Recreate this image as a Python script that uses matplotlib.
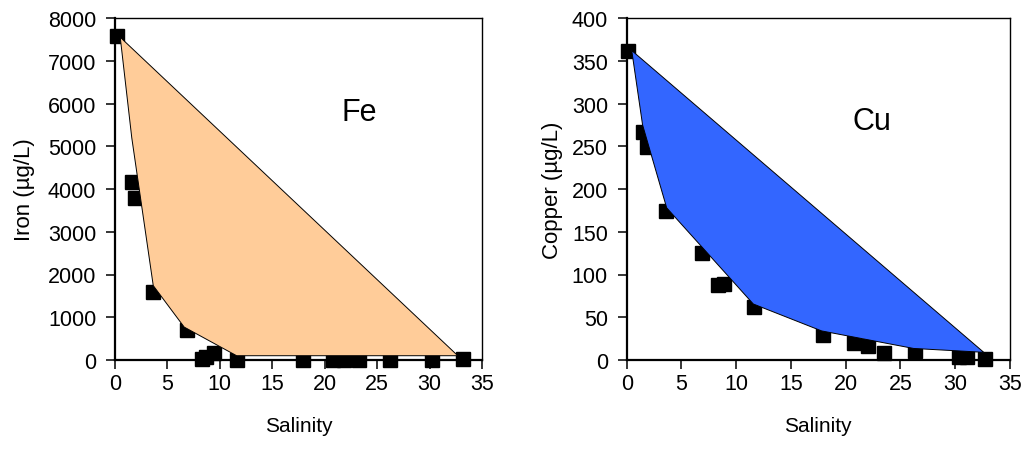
import matplotlib
matplotlib.use('Agg')

import matplotlib.pyplot as plt
from matplotlib.patches import Polygon

plt.rcParams['font.family'] = ['Liberation Sans', 'DejaVu Sans']

# ---------------------------
# DATA
# ---------------------------
fe_sal = [0.15, 1.6, 1.9, 3.65, 6.83, 8.26, 8.7, 9.45, 11.6, 17.9, 20.8, 21.8, 23.3, 26.2, 30.25, 33.2]
fe_val = [7570, 4160, 3800, 1580, 690, 20, 60, 160, 10, 10, 10, 10, 10, 10, 10, 20]

# mixing envelope (upper: conservative line, lower: model curve)
fe_env_sal = [0.5, 1.6, 3.65, 6.6, 11.6, 32.7]
fe_env_val = [7550, 5200, 1740, 770, 100, 100]

cu_sal = [0.15, 1.46, 1.83, 3.59, 6.86, 8.38, 8.84, 11.64, 17.96, 20.8, 22.0, 23.5, 26.35, 30.3, 31.1, 32.75]
cu_val = [362, 267, 249, 174, 125, 88, 89, 62, 29, 20, 16, 8, 10, 4, 3, 1]

cu_env_sal = [0.46, 1.45, 3.65, 11.56, 17.8, 26.2, 32.6]
cu_env_val = [362, 275, 178, 65.5, 34, 13.5, 9]

x_ticks = [0, 5, 10, 15, 20, 25, 30, 35]
fe_ticks = [0, 1000, 2000, 3000, 4000, 5000, 6000, 7000, 8000]
cu_ticks = [0, 50, 100, 150, 200, 250, 300, 350, 400]

# ---------------------------
# FIGURE
# ---------------------------
fig = plt.figure(figsize=(10.23, 4.64), dpi=100)
ax_fe = fig.add_axes([0.1124, 0.222, 0.3587, 0.737])
ax_cu = fig.add_axes([0.6126, 0.222, 0.3747, 0.737])


def draw_panel(ax, sal, val, env_sal, env_val, color, yticks, ylabel, name, ylpad):
    pts = list(zip(env_sal, env_val))
    ax.add_patch(Polygon(pts, closed=True, facecolor=color, edgecolor='black',
                         linewidth=0.7, zorder=3))
    ax.plot(sal, val, 's', color='black', markersize=9.5, clip_on=False, zorder=2)

    ax.set_xlim(0, 35)
    ax.set_ylim(yticks[0], yticks[-1])
    ax.set_xticks(x_ticks)
    ax.set_yticks(yticks)
    ax.tick_params(direction='out', length=6.5, width=1.1, labelsize=15.5)
    ax.tick_params(axis='y', pad=7)
    ax.tick_params(axis='x', pad=3)

    for s in ['left', 'bottom']:
        ax.spines[s].set_linewidth(1.6)
    for s in ['top', 'right']:
        ax.spines[s].set_linewidth(1.0)

    ax.set_xlabel('Salinity', fontsize=15, labelpad=16)
    ax.set_ylabel(ylabel, fontsize=16, labelpad=ylpad)
    ax.text(0.665, 0.725, name, transform=ax.transAxes, fontsize=22,
            ha='center', va='center')


draw_panel(ax_fe, fe_sal, fe_val, fe_env_sal, fe_env_val, '#FFCC99',
           fe_ticks, 'Iron (µg/L)', 'Fe', 9)
draw_panel(ax_cu, cu_sal, cu_val, cu_env_sal, cu_env_val, '#3366FF',
           cu_ticks, 'Copper (µg/L)', 'Cu', 6)
ax_cu.texts[0].set_position((0.64, 0.70))

fig.savefig('out.png', dpi=100)
